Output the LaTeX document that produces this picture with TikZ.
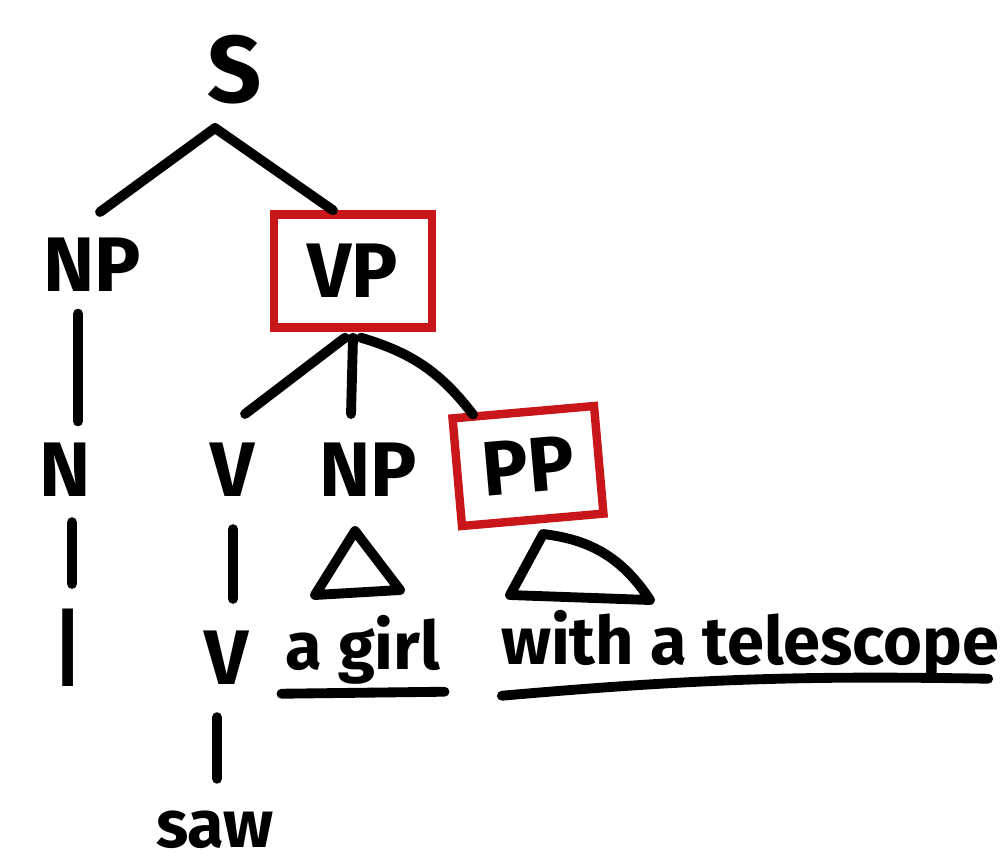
\documentclass[tikz,border=0pt]{standalone}
\usepackage{xcolor}
\usepackage{tikz}
\usepackage{fontspec}
\setmainfont{Fira Sans}
\definecolor{boxred}{RGB}{200,22,26}

\begin{document}
\begin{tikzpicture}[
    cat/.style={font=\fontsize{22}{24}\selectfont\bfseries, inner sep=1pt},
    word/.style={font=\fontsize{19}{21}\selectfont\bfseries, inner sep=1pt},
    marked/.style={draw=boxred, line width=2.4pt, inner sep=0pt},
    pen/.style={black, line width=2.8pt, line cap=round, line join=round}
  ]
  \useasboundingbox (0,0) rectangle (10,-8.66);

  % labels
  \node[cat, font=\fontsize{27}{29}\selectfont\bfseries] (s) at (2.35,-0.7) {S};
  \node[cat] (np1) at (0.92,-2.65) {NP};
  \node[cat, marked, minimum width=1.58cm, minimum height=1.13cm] (vp) at (3.53,-2.71) {VP};
  \node[cat] (n) at (0.65,-4.7) {N};
  \node[cat] (v1) at (2.33,-4.7) {V};
  \node[cat] (np2) at (3.68,-4.7) {NP};
  \node[cat, marked, minimum width=1.42cm, minimum height=1.08cm, rotate=5] (pp) at (5.28,-4.66) {PP};
  \node[word, font=\fontsize{32}{34}\selectfont\mdseries] (i) at (0.68,-6.48) {I};
  \node[cat] (v2) at (2.27,-6.58) {V};
  \node[word] (girl) at (3.63,-6.5) {a girl};
  \node[word] (scope) at (7.5,-6.45) {with a telescope};
  \node[word] (saw) at (2.15,-8.3) {saw};
  \coordinate (sfork) at (2.15,-1.28);

  % branches
  \draw[pen] (sfork) -- (1.0,-2.12);
  \draw[pen] (sfork) -- ([xshift=-0.2cm]vp.north);
  \draw[pen, shorten <=5pt, shorten >=5pt] ([xshift=-0.14cm]np1.south) -- ([xshift=0.13cm]n.north);
  \draw[pen] ([xshift=-0.08cm,yshift=-0.06cm]vp.south) -- ([xshift=0.12cm,yshift=0.25cm]v1.north);
  \draw[pen] ([yshift=-0.06cm]vp.south) -- ([xshift=-0.17cm,yshift=0.25cm]np2.north);
  \draw[pen] ([xshift=0.08cm,yshift=-0.06cm]vp.south) to[bend left=18] ([xshift=0.25cm]pp.north west);
  \draw[pen, shorten <=6pt, shorten >=6pt] ([xshift=0.07cm]n.south) -- ([xshift=0.04cm]i.north);
  \draw[pen, shorten <=8pt, shorten >=8pt] (v1.south) -- ([xshift=0.06cm]v2.north);
  \draw[pen, shorten <=8pt, shorten >=8pt] ([xshift=-0.1cm]v2.south) -- ([xshift=0.02cm]saw.north);

  % triangles
  \draw[pen] ([xshift=-0.13cm,yshift=-0.3cm]np2.south) -- (3.15,-5.95) -- (4.0,-5.9) -- cycle;
  \draw[pen] ([xshift=0.1cm,yshift=-0.1cm]pp.south) to[bend left=25] (6.5,-6.0) -- (5.1,-5.95) -- cycle;

  % underlines
  \draw[pen] ([yshift=-0.05cm]girl.south west) -- ([yshift=-0.03cm]girl.south east);
  \draw[pen] ([xshift=0.05cm,yshift=-0.12cm]scope.south west) to[bend left=3] ([xshift=-0.15cm,yshift=0.05cm]scope.south east);
\end{tikzpicture}
\end{document}
